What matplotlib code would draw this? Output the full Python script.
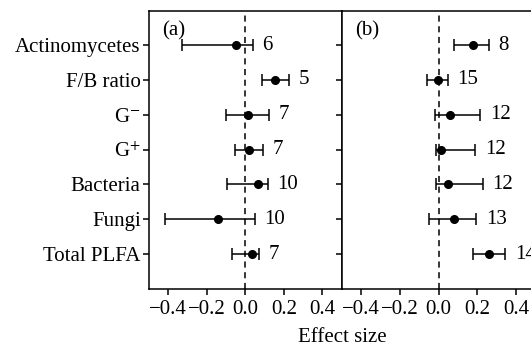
import matplotlib
matplotlib.use("Agg")
import matplotlib.pyplot as plt

plt.rcParams["font.family"] = ["Liberation Serif", "DejaVu Serif"]
plt.rcParams["mathtext.fontset"] = "stix"

categories = ["Actinomycetes", "F/B ratio", "G$^{-}$", "G$^{+}$", "Bacteria", "Fungi", "Total PLFA"]

# panel (a)
mean_a = [-0.047, 0.152, 0.014, 0.017, 0.066, -0.141, 0.035]
low_a = [-0.327, 0.086, -0.103, -0.055, -0.095, -0.419, -0.069]
high_a = [0.038, 0.224, 0.124, 0.091, 0.117, 0.048, 0.069]
n_a = [6, 5, 7, 7, 10, 10, 7]

# panel (b)
mean_b = [0.180, -0.003, 0.060, 0.014, 0.046, 0.077, 0.258]
low_b = [0.081, -0.060, -0.020, -0.013, -0.012, -0.051, 0.177]
high_b = [0.258, 0.048, 0.215, 0.189, 0.227, 0.194, 0.343]
n_b = [8, 15, 12, 12, 12, 13, 14]

fig = plt.figure(figsize=(5.31, 3.45), dpi=100)
ax1 = fig.add_axes([149 / 531, 1 - 289 / 345, 192.7 / 531, 278 / 345])
ax2 = fig.add_axes([341.7 / 531, 1 - 289 / 345, 193.8 / 531, 278 / 345])

ypos = list(range(len(categories)))

for ax, mean, low, high, n, tag in [
    (ax1, mean_a, low_a, high_a, n_a, "(a)"),
    (ax2, mean_b, low_b, high_b, n_b, "(b)"),
]:
    err = [[m - l for m, l in zip(mean, low)], [h - m for m, h in zip(mean, high)]]
    ax.axvline(0, color="black", lw=1.1, ls=(0, (4, 3)), zorder=1)
    ax.errorbar(mean, ypos, xerr=err, fmt="o", color="black", ms=5.5,
                elinewidth=1.1, capsize=4, capthick=1.1, zorder=3)
    for y, h, k in zip(ypos, high, n):
        ax.annotate(str(k), xy=(h, y), xytext=(7, 0), textcoords="offset points",
                    va="center", ha="left", fontsize=15)
    ax.set_xlim(-0.5, 0.5)
    ax.set_ylim(7, -0.98)
    ax.set_xticks([-0.4, -0.2, 0.0, 0.2, 0.4])
    ax.set_xticklabels(["\u22120.4", "\u22120.2", "0.0", "0.2", "0.4"])
    ax.set_yticks(ypos)
    ax.tick_params(direction="out", length=4, width=1.1, labelsize=15)
    ax.tick_params(axis="x", pad=4)
    ax.tick_params(axis="y", pad=2)
    for s in ax.spines.values():
        s.set_linewidth(1.1)
    ax.text(0.07, 0.93, tag, transform=ax.transAxes, va="center", ha="left", fontsize=15)

ax1.set_yticklabels(categories)
ax2.set_yticklabels([])

fig.text(342.5 / 531, 1 - 341.5 / 345, "Effect size", ha="center", va="baseline", fontsize=15)

fig.savefig("out.png", dpi=100)
